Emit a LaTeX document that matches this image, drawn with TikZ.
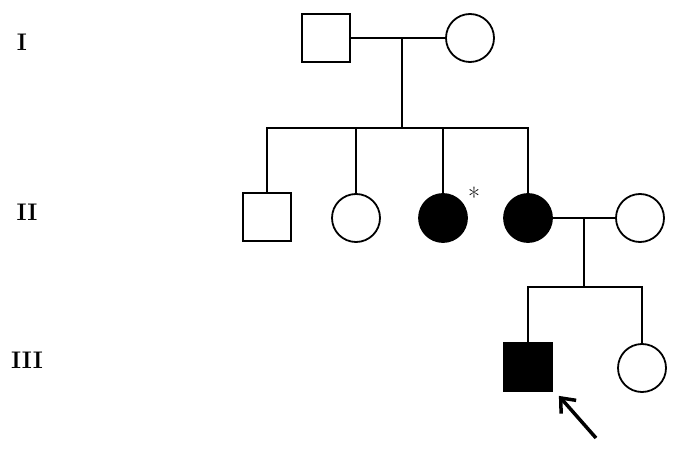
\documentclass[tikz,border=0pt]{standalone}
\usetikzlibrary{arrows.meta}
\begin{document}
\begin{tikzpicture}[x=1pt,y=-1pt,line width=1.8pt,
  male/.style={draw,minimum size=48pt,inner sep=0pt,rectangle},
  female/.style={draw,circle,minimum size=48pt,inner sep=0pt},
  aff/.style={fill=black},
  gen/.style={font=\bfseries\fontsize{24}{26}\selectfont}]
\useasboundingbox (0,0) rectangle (677,449);
\node[gen] (gI) at (22,42) {I};
\node[gen] (gII) at (27,212) {II};
\node[gen] (gIII) at (27,360) {III};
\node[male] (f) at (326,38) {};
\node[female] (m) at (470,38) {};
\node[male] (c1) at (267,217) {};
\node[female] (c2) at (356,218) {};
\node[female,aff] (c3) at (443,218) {};
\node[font=\fontsize{26}{28}\selectfont] (ast) at (474,197) {*};
\node[female,aff] (c4) at (528,218) {};
\node[female] (sp) at (640,218) {};
\node[male,aff] (p) at (528,367) {};
\node[female] (s) at (642,368) {};
\coordinate (mI) at (402,38);
\coordinate (sI) at (402,128);
\coordinate (mII) at (584,218);
\coordinate (sII) at (584,287);
\coordinate (ae) at (596,438);
\draw (f.east) -- (m.west);
\draw (mI) -- (sI);
\draw (c1.north) |- (sI) -| (c4.north);
\draw (c2.north) -- (c2.north |- sI);
\draw (c3.north) -- (c3.north |- sI);
\draw (c4.east) -- (sp.west);
\draw (mII) -- (sII);
\draw (p.north) |- (sII) -| (s.north);
\draw[line width=3.5pt,-{Straight Barb[length=12pt,width=20pt]}] (ae) -- ([shift={(6pt,-4pt)}]p.south east);
\end{tikzpicture}
\end{document}
